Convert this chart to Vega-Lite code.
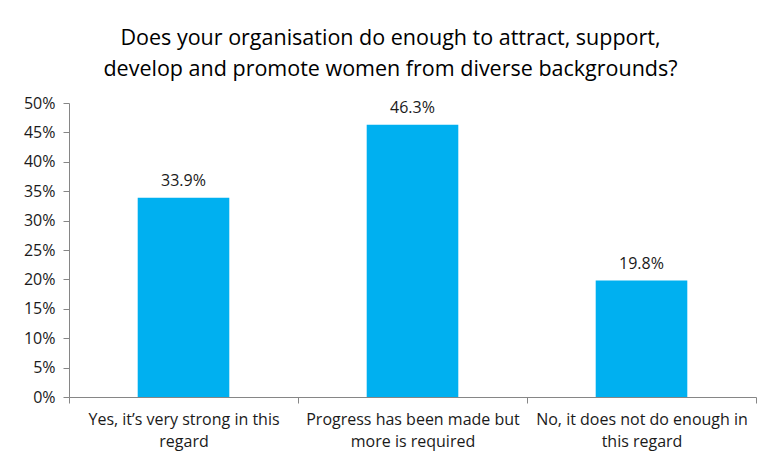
{
  "$schema": "https://vega.github.io/schema/vega-lite/v6.json",
  "width": 687,
  "height": 294,
  "autosize": "none",
  "padding": {"left": 69, "top": 103, "right": 12, "bottom": 65},
  "background": "white",
  "title": {
    "text": ["Does your organisation do enough to attract, support,", "develop and promote women from diverse backgrounds?"],
    "anchor": "middle",
    "dx": -22,
    "offset": 15,
    "font": "Open Sans",
    "fontSize": 21.5,
    "fontWeight": "normal",
    "color": "#000000",
    "lineHeight": 31
  },
  "data": {
    "values": [
      {"answer": "Yes, it’s very strong in this|regard", "share": 0.339},
      {"answer": "Progress has been made but|more is required", "share": 0.463},
      {"answer": "No, it does not do enough in|this regard", "share": 0.198}
    ]
  },
  "encoding": {
    "x": {
      "field": "answer",
      "type": "nominal",
      "sort": null,
      "scale": {"paddingInner": 0, "paddingOuter": 0},
      "axis": {
        "title": null,
        "labelAngle": 0,
        "labelExpr": "split(datum.label, '|')",
        "labelFont": "Open Sans",
        "labelFontSize": 16,
        "labelColor": "#1a1a1a",
        "labelLineHeight": 22,
        "labelPadding": 8,
        "tickBand": "extent",
        "tickSize": 6,
        "tickColor": "#868686",
        "domainColor": "#868686",
        "labelLimit": 300
      }
    },
    "y": {
      "field": "share",
      "type": "quantitative",
      "scale": {"domain": [0, 0.5], "nice": false},
      "axis": {
        "title": null,
        "format": ".0%",
        "values": [0, 0.05, 0.1, 0.15, 0.2, 0.25, 0.3, 0.35, 0.4, 0.45, 0.5],
        "grid": false,
        "labelFont": "Open Sans",
        "labelFontSize": 16,
        "labelColor": "#1a1a1a",
        "tickSize": 6,
        "tickColor": "#868686",
        "domainColor": "#868686",
        "labelPadding": 8
      }
    }
  },
  "layer": [
    {
      "mark": {"type": "bar", "width": {"band": 0.4}, "color": "#00B0F0"}
    },
    {
      "mark": {"type": "text", "dy": -17, "font": "Open Sans", "fontSize": 16, "color": "#1a1a1a"},
      "encoding": {
        "text": {"field": "share", "type": "quantitative", "format": ".1%"}
      }
    }
  ],
  "config": {
    "view": {"stroke": null}
  }
}
